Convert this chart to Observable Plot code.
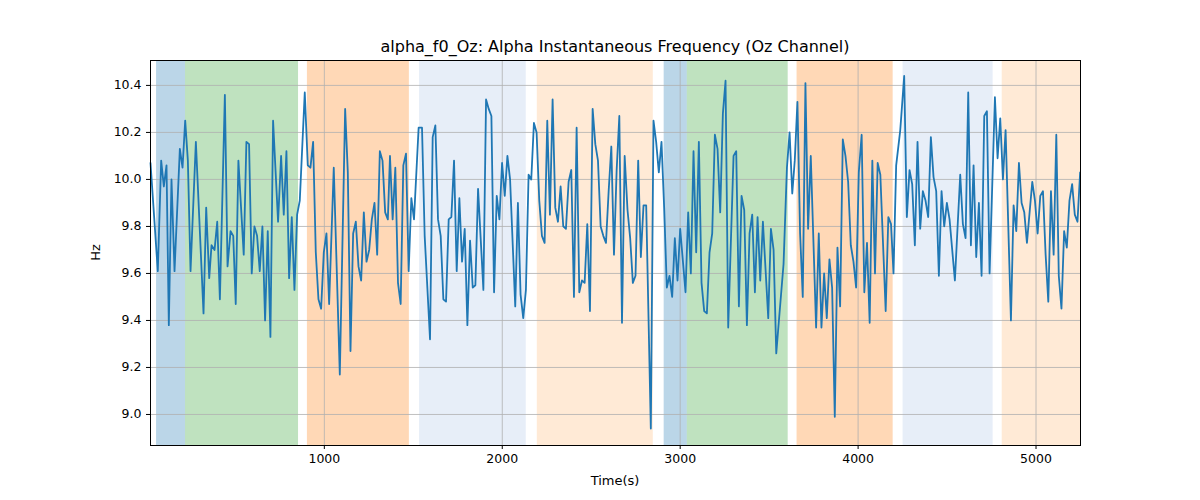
<!DOCTYPE html>
<html><head><meta charset="utf-8">
<script src="https://cdn.jsdelivr.net/npm/d3@7"></script>
<script src="https://cdn.jsdelivr.net/npm/@observablehq/plot@0.6"></script>
<style>
body{margin:0;background:#fff;font-family:"DejaVu Sans",sans-serif;}
#wrap{position:relative;width:1200px;height:500px;}
#title{position:absolute;top:37px;left:150px;width:930px;text-align:center;font-size:16px;color:#000;}
#xl{position:absolute;top:473px;left:150px;width:930px;text-align:center;font-size:13px;color:#000;}
#yl{position:absolute;top:245px;left:80px;width:30px;text-align:center;font-size:13px;color:#000;transform:rotate(-90deg);transform-origin:center;}
svg{font-family:"DejaVu Sans",sans-serif;}
</style></head><body>
<div id="wrap"><div id="title">alpha_f0_Oz: Alpha Instantaneous Frequency (Oz Channel)</div><div id="chart"></div><div id="xl">Time(s)</div><div id="yl">Hz</div></div>
<script>
const times = [23,64,83,98,113,126,141,158,188,203,218,233,248,278,321,336,353,366,383,398,413,441,456,473,488,502,517,547,562,577,592,607,622,637,652,667,682,697,712,740,757,772,787,802,817,832,847,862,890,907,922,937,952,967,982,997,1012,1027,1053,1087,1117,1132,1147,1162,1177,1192,1207,1222,1237,1252,1267,1282,1297,1312,1327,1342,1357,
1369,1384,1399,1414,1429,1444,1459,1474,1489,1504,1530,1549,1564,1594,1609,1624,1639,1654,1669,1684,1699,1714,1729,1744,1759,1774,1789,1804,1819,1834,1849,1864,1894,1909,1924,1939,1954,1969,1984,1999,2014,2029,2044,2073,2088,2103,2118,2133,2148,2163,2178,2193,2208,2223,2238,2253,2268,2283,2298,2313,2328,2343,2358,2373,2388,2403,2418,2433,2448,2463,2478,2493,2508,2523,2538,2553,2568,2583,2598,2613,2628,2643,2658,2673,2688,
2704,2719,2734,2749,2764,2779,2794,2809,2835,2850,2865,2880,2895,2910,2925,2940,2955,2970,2985,3000,3030,3045,3060,3075,3090,3105,3120,3135,3150,3165,3180,3195,3210,3225,3240,3255,3270,3300,3315,3330,3345,3360,3375,3390,3405,3420,3435,3450,3465,3495,3510,3525,3540,3555,3581,3600,3615,3630,3644,3659,3674,3689,3704,3719,3734,3764,3779,3794,3809,3824,3839,3854,3869,3884,3899,3914,3929,3944,3959,3974,3989,4004,
4020,4035,4050,4065,4080,4095,4110,4125,4155,4170,4185,4199,4214,4237,4259,4274,4289,4304,4319,4334,4349,4364,4379,4394,4409,4424,4439,4454,4469,4484,4499,4514,4544,4574,4589,4604,4619,4634,4649,4664,4679,4694,4709,4724,4739,4769,4784,4799,4814,4829,4859,4874,4889,4904,4919,4934,4949,4979,4994,5009,5024,5039,5054,5069,5084,5099,5114,5128,5143,5158,5173,5188,5203,5218,5233,5248];
const hz = [10.07,9.61,10.08,9.97,10.06,9.38,10.00,9.61,10.13,10.05,10.25,10.08,9.61,10.16,9.43,9.88,9.58,9.72,9.70,9.82,9.49,10.36,9.63,9.78,9.76,9.47,10.08,9.68,10.16,10.15,9.60,9.80,9.76,9.61,9.80,9.40,9.78,9.33,10.25,9.82,10.10,9.85,10.12,9.58,9.84,9.53,9.85,9.91,10.37,10.06,10.05,10.16,9.69,9.49,9.45,9.69,9.77,9.47,10.05,9.17,10.30,10.03,9.27,9.77,9.82,9.63,9.57,9.86,9.65,9.70,9.83,9.90,9.68,10.12,10.08,9.86,9.83,
10.10,9.83,10.05,9.56,9.47,10.06,10.11,9.61,9.92,9.83,10.22,10.22,9.76,9.32,10.18,10.23,9.83,9.76,9.49,9.48,9.83,9.84,10.08,9.61,9.92,9.65,9.79,9.38,9.74,9.54,9.55,9.96,9.53,10.34,10.30,10.27,9.52,9.93,9.83,10.07,9.93,10.10,10.00,9.46,9.90,9.51,9.41,9.53,10.02,10.00,10.24,10.20,9.91,9.76,9.73,10.25,9.85,10.34,9.88,9.82,9.97,9.80,9.79,9.99,10.04,9.50,10.22,9.52,9.57,9.56,9.81,9.44,10.30,10.15,10.08,9.80,9.76,9.73,9.95,10.14,9.68,10.04,10.27,9.39,10.10,
9.87,9.75,9.56,9.59,10.08,9.67,9.89,9.89,8.94,10.25,10.16,10.03,10.16,9.88,9.54,9.59,9.50,9.75,9.57,9.79,9.52,9.86,9.60,10.12,9.69,10.16,9.56,9.44,9.43,9.69,9.77,10.19,10.13,9.86,10.28,10.42,9.37,10.10,10.12,9.46,9.93,9.87,9.38,9.77,9.85,9.52,9.84,9.57,9.82,9.41,9.79,9.70,9.26,9.40,9.64,10.05,10.20,9.94,10.08,10.33,9.77,9.50,10.41,9.79,10.10,9.37,9.77,9.37,9.60,9.41,9.66,9.54,8.99,9.71,9.46,10.17,10.10,9.99,9.72,9.65,9.54,10.03,
10.19,9.52,9.73,9.39,10.08,9.60,10.07,10.02,9.44,9.84,9.81,9.60,10.06,10.21,10.44,9.84,10.04,9.98,9.72,10.16,9.79,9.95,9.91,9.84,10.18,10.01,9.95,9.59,9.95,9.80,9.90,9.83,9.57,10.02,9.81,9.75,10.37,9.72,10.06,9.67,9.90,9.59,10.27,10.29,9.60,10.35,10.09,10.26,10.00,10.21,9.40,9.89,9.78,10.07,9.90,9.86,9.73,9.99,9.91,9.77,9.93,9.95,9.68,9.48,9.95,9.68,10.19,9.59,9.45,9.78,9.71,9.91,9.98,9.85,9.82,10.03];
const bandStart = [57,220,905,1535,2197,2910,3040,3657,4253,4810];
const bandEnd = [220,855,1478,2135,2849,3040,3607,4197,4759,5250];
const bandColor = ["#1f77b4","#2ca02c","#ff7f0e","#aec7e8","#ffbb78","#1f77b4","#2ca02c","#ff7f0e","#aec7e8","#ffbb78"];
const bandOpacity = [0.3,0.3,0.3,0.3,0.3,0.3,0.3,0.3,0.3,0.3];
const xTicks = [1000,2000,3000,4000,5000];
const yTicks = [9.0,9.2,9.4,9.6,9.8,10.0,10.2,10.4];

const series = times.map((t,i)=>({t, v: hz[i]}));
const bands = bandStart.map((s,i)=>({s, e: bandEnd[i], c: bandColor[i], o: bandOpacity[i]}));

const chart = Plot.plot({
  width: 1200, height: 500,
  marginLeft: 150, marginRight: 120, marginTop: 60, marginBottom: 55,
  style: {fontSize: "12.5px", fontFamily: "DejaVu Sans", color: "#000"},
  x: {domain: [23, 5250], ticks: xTicks, tickFormat: d3.format("d"), label: null, tickSize: 4},
  y: {domain: [8.868, 10.506], ticks: yTicks, tickFormat: d3.format(".1f"), label: null, tickSize: 4},
  marks: [
    Plot.rectX(bands, {x1: "s", x2: "e", y1: 8.868, y2: 10.506, fill: "c", fillOpacity: "o"}),
    Plot.gridX(xTicks, {stroke: "#b0b0b0", strokeOpacity: 1, strokeWidth: 0.8}),
    Plot.gridY(yTicks, {stroke: "#b0b0b0", strokeOpacity: 1, strokeWidth: 0.8}),
    Plot.line(series, {x: "t", y: "v", stroke: "#1f77b4", strokeWidth: 1.8}),
    Plot.frame({stroke: "#000", strokeWidth: 1})
  ]
});
document.getElementById("chart").appendChild(chart);
</script></body></html>
